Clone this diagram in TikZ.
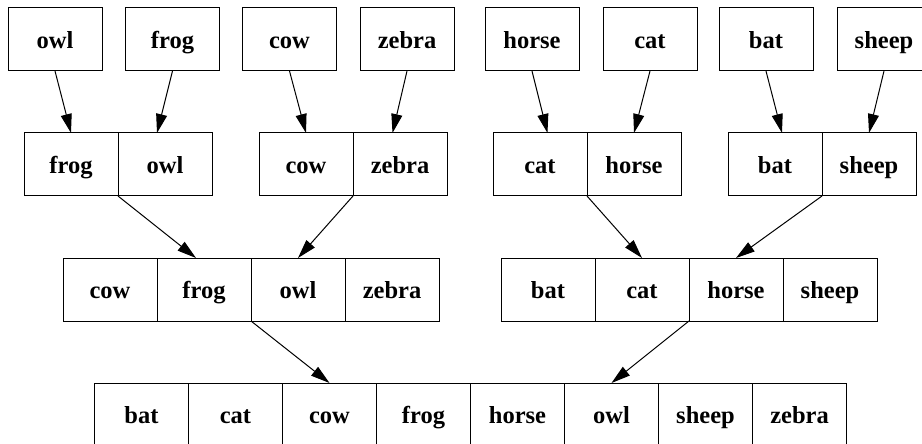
\documentclass[tikz,border=0pt]{standalone}
\usepackage{fontspec}
\setmainfont{LiberationSerif}[Extension=.ttf, UprightFont=*-Regular, BoldFont=*-Bold]
\usetikzlibrary{positioning,calc,arrows.meta}

\tikzset{
  cell/.style={draw, line width=0.5pt, minimum width=47pt, minimum height=31.5pt,
    inner sep=0pt, outer sep=0pt, text height=11pt, text depth=2.2pt,
    font=\fontsize{12.25}{14}\selectfont\bfseries},
  link/.style={-{Triangle[length=9.5pt,width=5.5pt]}, line width=0.5pt},
}

\begin{document}
\begin{tikzpicture}[x=0.5pt, y=-0.5pt]
  \useasboundingbox (0,0) rectangle (922,444);
  \clip (0,0) rectangle (922,444);

  % single words
  \node[cell] (a1) at (55,39.5) {owl};
  \node[cell] (a2) at (172.5,39.5) {frog};
  \node[cell] (a3) at (289.5,39.5) {cow};
  \node[cell] (a4) at (407,39.5) {zebra};
  \node[cell] (a5) at (532,39.5) {horse};
  \node[cell] (a6) at (650,39.5) {cat};
  \node[cell] (a7) at (766,39.5) {bat};
  \node[cell] (a8) at (884,39.5) {sheep};

  % merged pairs
  \node[cell] (b1) at (71,164.5) {frog};
  \node[cell, right=0pt of b1] (b2) {owl};
  \node[cell] (b3) at (306,164.5) {cow};
  \node[cell, right=0pt of b3] (b4) {zebra};
  \node[cell] (b5) at (540,164.5) {cat};
  \node[cell, right=0pt of b5] (b6) {horse};
  \node[cell] (b7) at (775,164.5) {bat};
  \node[cell, right=0pt of b7] (b8) {sheep};

  % merged fours
  \node[cell] (c1) at (110,289.5) {cow};
  \node[cell, right=0pt of c1] (c2) {frog};
  \node[cell, right=0pt of c2] (c3) {owl};
  \node[cell, right=0pt of c3] (c4) {zebra};
  \node[cell] (c5) at (548,289.5) {bat};
  \node[cell, right=0pt of c5] (c6) {cat};
  \node[cell, right=0pt of c6] (c7) {horse};
  \node[cell, right=0pt of c7] (c8) {sheep};

  % final sorted list
  \node[cell] (d1) at (141.5,414.5) {bat};
  \node[cell, right=0pt of d1] (d2) {cat};
  \node[cell, right=0pt of d2] (d3) {cow};
  \node[cell, right=0pt of d3] (d4) {frog};
  \node[cell, right=0pt of d4] (d5) {horse};
  \node[cell, right=0pt of d5] (d6) {owl};
  \node[cell, right=0pt of d6] (d7) {sheep};
  \node[cell, right=0pt of d7] (d8) {zebra};

  \draw[link] (a1.south) -- (b1.north);
  \draw[link] (a2.south) -- ($(b2.north)+(-8,0)$);
  \draw[link] (a3.south) -- (b3.north);
  \draw[link] (a4.south) -- ($(b4.north)+(-7.5,0)$);
  \draw[link] (a5.south) -- ($(b5.north)+(7.5,0)$);
  \draw[link] (a6.south) -- (b6.north);
  \draw[link] (a7.south) -- ($(b7.north)+(7,0)$);
  \draw[link] (a8.south) -- (b8.north);

  \draw[link] (b1.south east) -- ($(c2.north)+(-8,0)$);
  \draw[link] (b3.south east) -- (c3.north);
  \draw[link] (b5.south east) -- (c6.north);
  \draw[link] (b7.south east) -- (c7.north);

  \draw[link] (c2.south east) -- (d3.north);
  \draw[link] (c6.south east) -- (d6.north);
\end{tikzpicture}
\end{document}
